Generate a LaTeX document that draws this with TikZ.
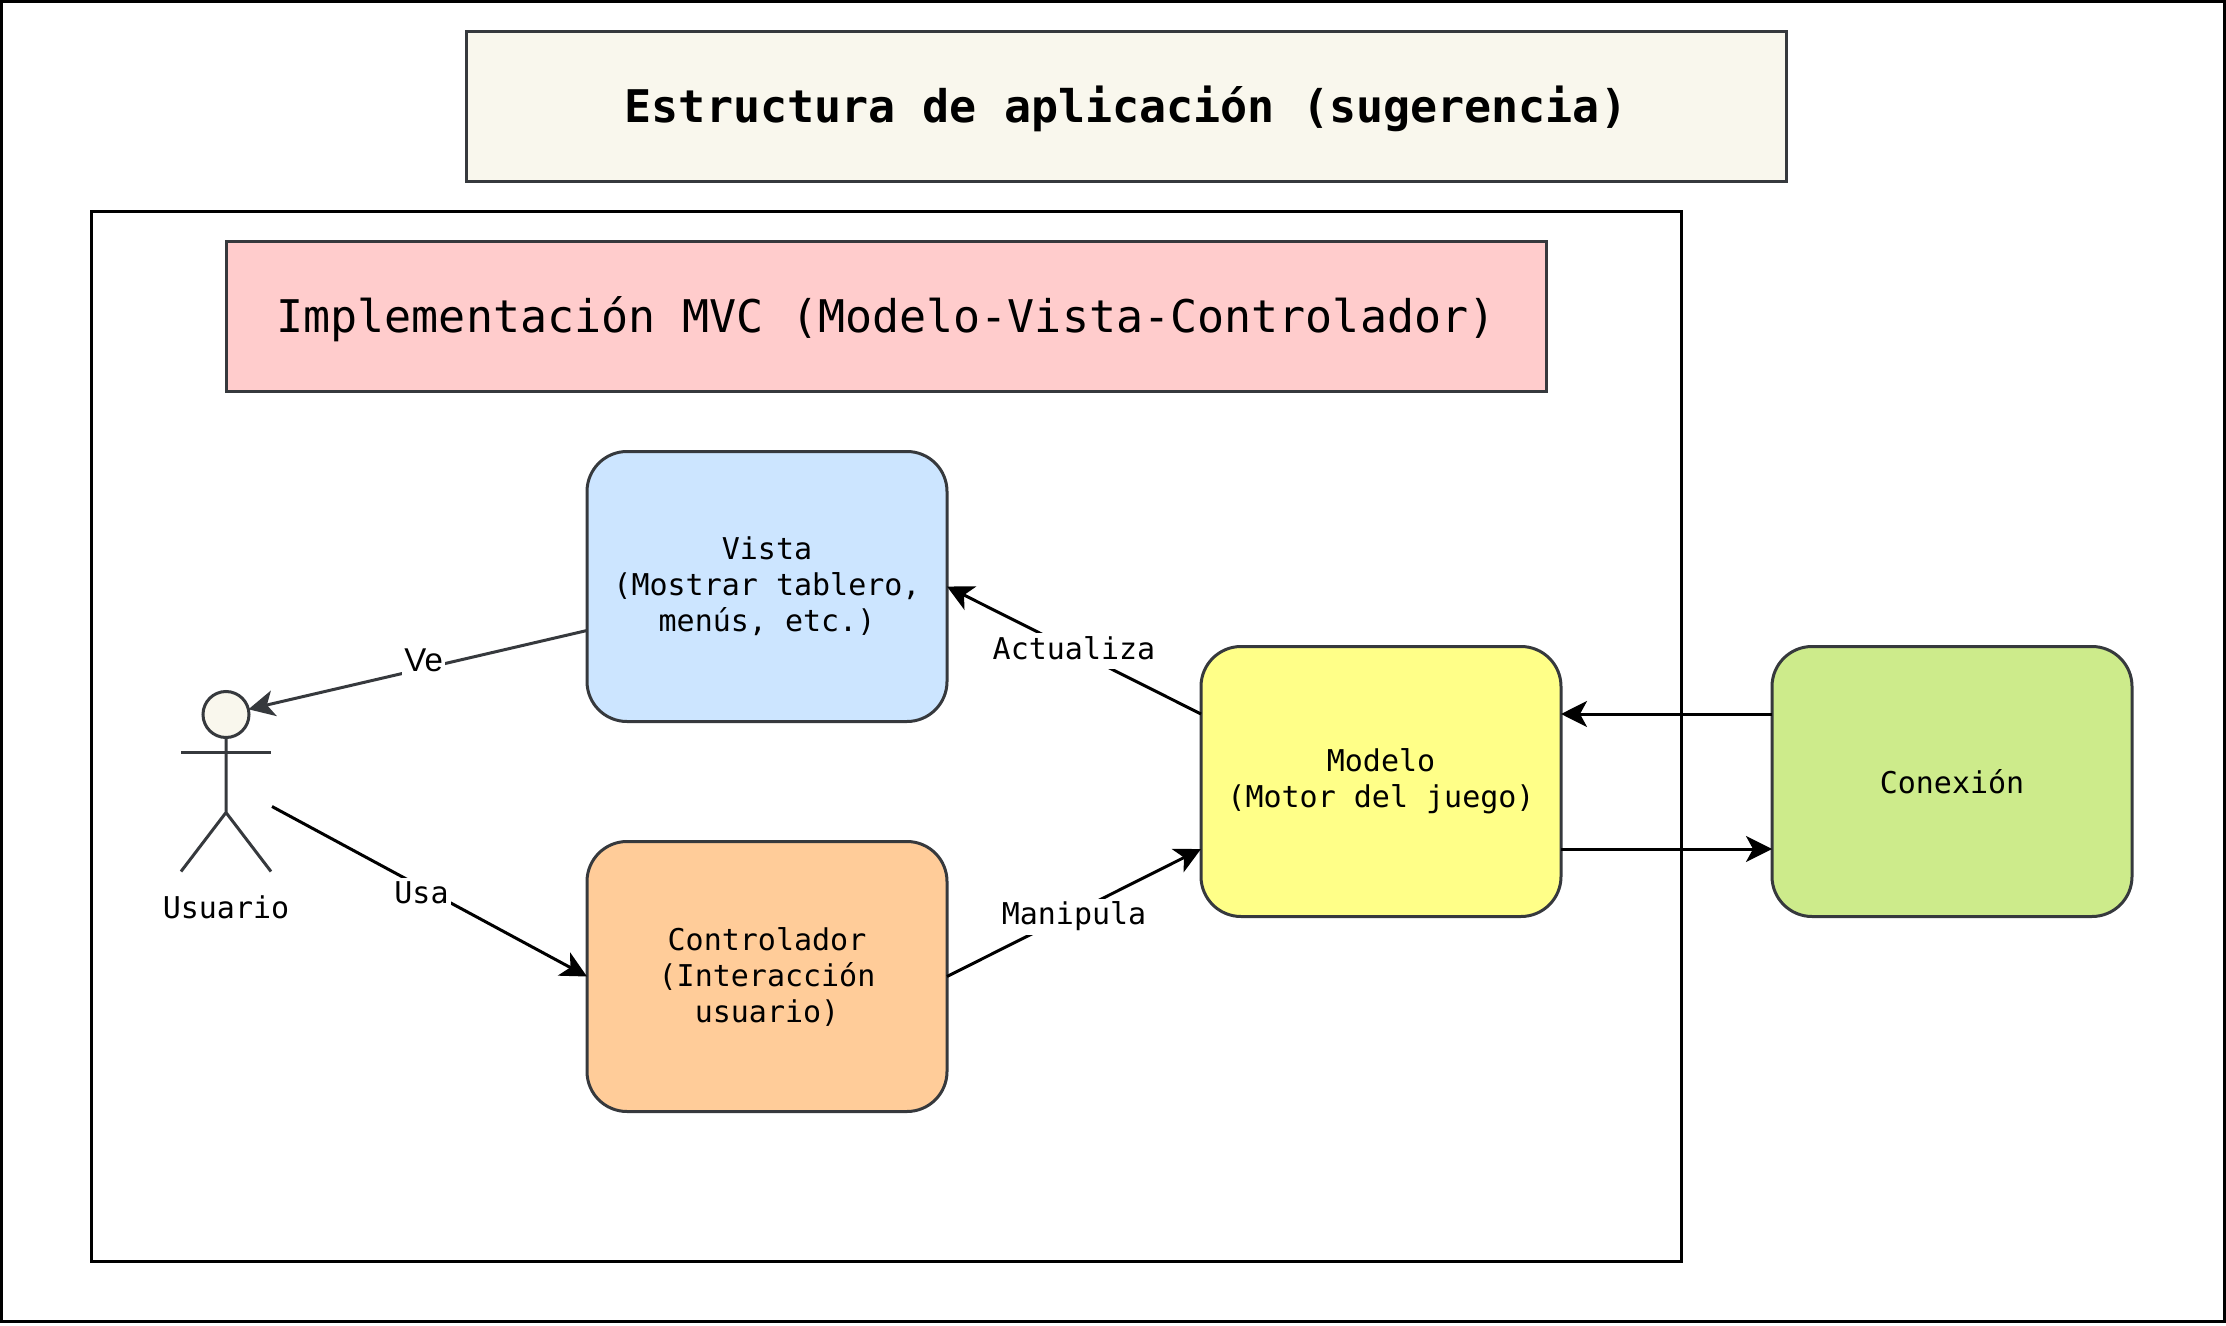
\documentclass[tikz,border=0pt]{standalone}
\usepackage{fontspec}
\setmainfont{Liberation Sans}
\setmonofont{DejaVu Sans Mono}
\usetikzlibrary{positioning,arrows.meta,calc}

\definecolor{edgegray}{HTML}{36393D}
\definecolor{cream}{HTML}{F9F7ED}
\definecolor{rosa}{HTML}{FFCCCC}
\definecolor{azul}{HTML}{CCE5FF}
\definecolor{naranja}{HTML}{FFCC99}
\definecolor{amarillo}{HTML}{FFFF88}
\definecolor{verde}{HTML}{CDEB8B}

\begin{document}
\begin{tikzpicture}[
  outer sep=0pt,
  frame/.style={draw=black, line width=1.5pt, minimum width=#1},
  banner/.style={draw=edgegray, line width=1.5pt, minimum width=660pt, minimum height=75pt,
                 text height=20pt, text depth=4pt,
                 font=\ttfamily\fontsize{22.5}{27}\selectfont},
  box/.style={draw=edgegray, line width=1.5pt, rounded corners=20pt, align=center,
              minimum width=180pt, minimum height=135pt,
              font=\ttfamily\fontsize{15}{18}\selectfont},
  head/.style={circle, draw=edgegray, line width=1.5pt, fill=cream, minimum size=23pt, inner sep=0pt},
  limb/.style={edgegray, line width=1.5pt},
  arr/.style={-{Stealth[length=13pt, width=13pt, inset=3.5pt]}, line width=1.5pt, black},
  lbl/.style={fill=white, text=black, inner xsep=1pt, inner ysep=0pt, text height=13pt, text depth=5pt,
              font=\ttfamily\fontsize{15}{18}\selectfont}
]
  \useasboundingbox (0,0) rectangle (1113pt,-663pt);

  % Outer frames
  \node[frame=1111.5pt, minimum height=660pt, anchor=north west] (page) at (0.75pt,-0.75pt) {};
  \node[banner, fill=cream, font=\ttfamily\bfseries\fontsize{22.5}{27}\selectfont,
        below right=15pt and 232.25pt of page.north west] (title) {Estructura de aplicación (sugerencia)};
  \node[frame=795pt, minimum height=525pt,
        below right=105pt and 45pt of page.north west] (mvc) {};
  \node[banner, fill=rosa, below right=15pt and 67.25pt of mvc.north west] (mvctitle)
       {Implementación MVC (Modelo-Vista-Controlador)};

  % Boxes
  \node[box, fill=azul, below right=30pt and 180.5pt of mvctitle.south west] (vista)
       {Vista\\(Mostrar tablero,\\menús, etc.)};
  \node[box, fill=naranja, below=60pt of vista] (control) {Controlador\\(Interacción\\usuario)};
  \node[box, fill=amarillo, right=127pt of $(vista.east)!0.5!(control.east)$] (modelo)
       {Modelo\\(Motor del juego)};
  \node[box, fill=verde, right=105.5pt of modelo] (conexion) {Conexión};

  % Actor
  \node[head, left=169pt of vista.west, yshift=-64pt] (usr) {};
  \draw[limb] (usr.south) -- ++(0,-37.5pt) coordinate (hip)
              -- ++(-22.5pt,-29.5pt) (hip) -- ++(22.5pt,-29.5pt);
  \draw[limb] ([shift={(-22.5pt,-19pt)}]usr.center) -- ++(45pt,0);
  \node[lbl, fill=none, below=89pt of usr.center] (usrname) {Usuario};
  \coordinate (usrout) at ([shift={(23pt,-46pt)}]usr.center);

  % Arrows
  \draw[arr, edgegray] ([yshift=-22pt]vista.west) -- node[lbl, font=\fontsize{16.5}{18}\selectfont, xshift=3pt, yshift=3pt] (ve) {Ve} (usr);
  \draw[arr] (usrout) -- node[lbl, xshift=-4pt, yshift=-2pt] (usa) {Usa} (control.west);
  \draw[arr] (control.east) -- node[lbl, yshift=-2pt] (manipula) {Manipula} ([yshift=-33.75pt]modelo.west);
  \draw[arr] ([yshift=33.75pt]modelo.west) -- node[lbl, yshift=-0.5pt] (actualiza) {Actualiza} (vista.east);
  \draw[arr] ([yshift=33.75pt]conexion.west) -- ([yshift=33.75pt]modelo.east);
  \draw[arr] ([yshift=-33.75pt]modelo.east) -- ([yshift=-33.75pt]conexion.west);
\end{tikzpicture}
\end{document}
